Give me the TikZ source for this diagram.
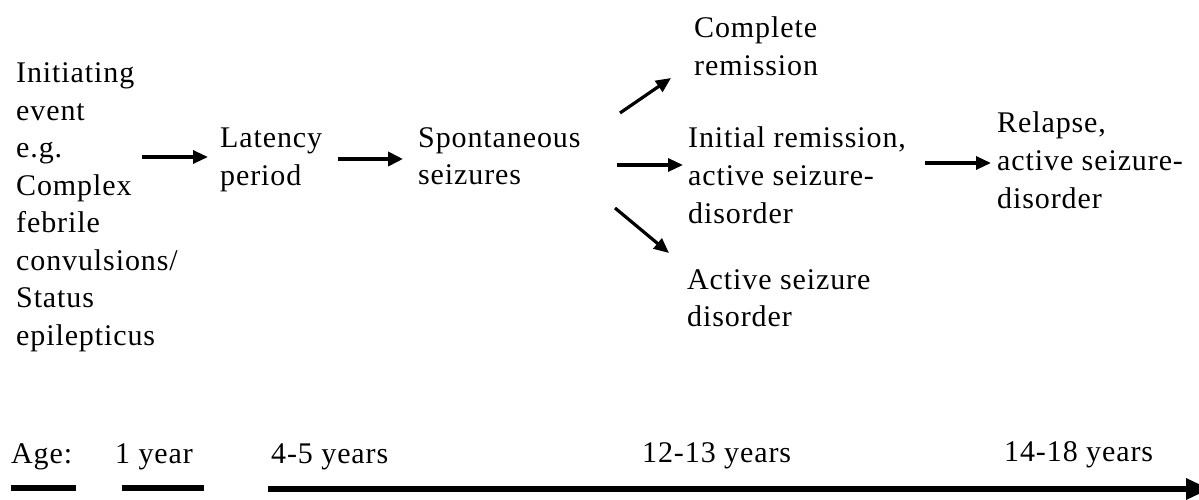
\documentclass[tikz,border=0pt]{standalone}
\usepackage{fontspec}
\setmainfont{Liberation Serif}[LetterSpace=3]
\usetikzlibrary{arrows.meta}
\newcommand\mylines[1]{\vtop{\halign{##\hfil\cr#1\crcr}}}
\begin{document}
\begin{tikzpicture}[x=1pt,y=-1pt,
  lbl/.style={anchor=base west,inner sep=0pt,font=\fontsize{30}{37.5}\selectfont},
  flow/.style={line width=3.2pt,-{Triangle[length=15pt,width=13pt]}},
  flowthick/.style={line width=4.5pt,-{Triangle[length=15pt,width=14pt]}},
  agebar/.style={line width=6pt},
  timeline/.style={line width=6pt,-{Triangle[length=24pt,width=20pt]}}]
\useasboundingbox[fill=white] (0,0) rectangle (1199,500);
% texts
\node[lbl] (init) at (16,83) {\mylines{Initiating\cr event\cr e.g.\cr Complex\cr febrile\cr convulsions/\cr Status\cr epilepticus}};
\node[lbl] (lat) at (220,148) {\mylines{Latency\cr period}};
\node[lbl] (spont) at (418,147) {\mylines{Spontaneous\cr seizures}};
\node[lbl] (compl) at (694,38) {\mylines{Complete\cr remission}};
\node[lbl] (initrem) at (688,148) {\mylines{Initial remission,\cr active seizure-\cr disorder}};
\node[lbl] (active) at (687,289) {\mylines{Active seizure\cr disorder}};
\node[lbl] (relapse) at (997,133) {\mylines{Relapse,\cr active seizure-\cr disorder}};
% age labels
\node[lbl] (age) at (11,463) {Age:};
\node[lbl] (y1) at (115,463) {1 year};
\node[lbl] (y45) at (271,463) {4-5 years};
\node[lbl] (y1213) at (642,462) {12-13 years};
\node[lbl] (y1418) at (1004,461) {14-18 years};
% connector end points
\coordinate (a1s) at (142,157); \coordinate (a1e) at (208,157);
\coordinate (a2s) at (338,159); \coordinate (a2e) at (403,159);
\coordinate (a3s) at (620,113); \coordinate (a3e) at (671,78);
\coordinate (a4s) at (617,165); \coordinate (a4e) at (683,165);
\coordinate (a5s) at (615,208); \coordinate (a5e) at (669,253);
\coordinate (a6s) at (925,163); \coordinate (a6e) at (991,163);
\coordinate (b1s) at (11,488); \coordinate (b1e) at (76,488);
\coordinate (b2s) at (122,488); \coordinate (b2e) at (204,488);
\coordinate (ts) at (268,489); \coordinate (te) at (1210,489);
% connectors
\draw[flow] (a1s) -- (a1e);
\draw[flowthick] (a2s) -- (a2e);
\draw[flow] (a3s) -- (a3e);
\draw[flow] (a4s) -- (a4e);
\draw[flow] (a5s) -- (a5e);
\draw[flow] (a6s) -- (a6e);
\draw[agebar] (b1s) -- (b1e);
\draw[agebar] (b2s) -- (b2e);
\draw[timeline] (ts) -- (te);
\end{tikzpicture}
\end{document}
